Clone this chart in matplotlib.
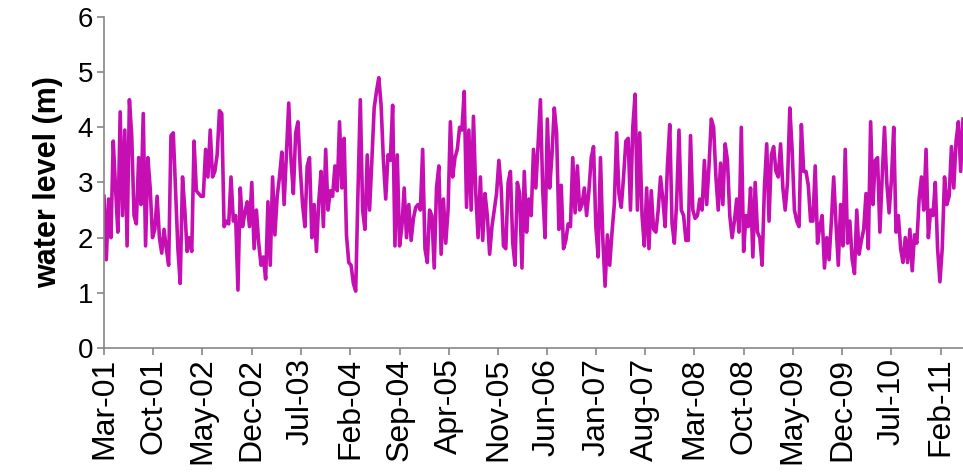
import pandas as pd
import matplotlib
matplotlib.use("Agg")
import matplotlib.pyplot as plt
import matplotlib.dates as mdates

plt.rcParams["font.family"] = ["Liberation Sans", "DejaVu Sans"]

LINE_COL = "#C60FB2"
AXIS_COL = "#868686"
YTICK_FS = 20
XTICK_FS = 23
LABEL_FS = 22

# water level (m), one reading every STEP_DAYS from START
START = "2001-03-01"
STEP_DAYS = 10
water_level = [
    2.75, 1.6, 2.7, 2.0, 3.75, 2.9, 2.1, 4.28, 2.4, 3.95, 1.85, 4.5, 3.85, 2.4, 2.25, 3.45,
    2.6, 4.25, 1.85, 3.45, 2.9, 2.0, 2.15, 2.75, 2.0, 1.72, 2.15, 1.8, 1.5, 3.85, 3.9,
    2.85, 1.8, 1.17, 3.1, 2.5, 1.75, 2.0, 1.75, 3.75, 2.85, 2.8, 2.75, 2.75, 3.6, 3.1,
    3.95, 3.1, 3.2, 3.5, 4.3, 4.25, 2.2, 2.3, 2.25, 3.1, 2.3, 2.4, 1.05, 2.9, 2.2, 2.45,
    2.65, 2.2, 3.0, 1.8, 2.5, 1.9, 1.5, 1.65, 1.25, 2.65, 1.5, 3.1, 2.05, 2.75, 3.1, 3.55,
    2.6, 3.5, 4.44, 3.4, 2.8, 3.9, 4.1, 3.25, 2.6, 2.2, 3.3, 3.45, 2.0, 2.6, 1.75,
    2.65, 3.2, 2.2, 3.6, 2.5, 2.85, 2.75, 3.3, 2.85, 4.1, 2.9, 3.8, 2.05, 1.55, 1.5, 1.17,
    1.03, 2.85, 4.5, 2.5, 2.15, 3.5, 2.5, 3.4, 4.35, 4.65, 4.9, 4.4, 3.4, 2.7, 3.5,
    3.4, 4.4, 1.85, 3.5, 1.85, 2.2, 2.9, 2.0, 2.6, 1.95, 2.35, 2.55, 2.6, 2.5, 3.6, 1.8,
    1.55, 2.5, 2.4, 1.45, 2.9, 3.3, 1.7, 2.7, 1.9, 2.5, 4.1, 3.1, 3.45, 3.6, 4.0,
    3.95, 4.65, 2.55, 3.95, 2.5, 4.2, 2.8, 2.0, 3.1, 1.95, 2.8, 2.4, 1.7, 2.2, 2.5, 2.8,
    3.4, 2.9, 1.85, 1.8, 3.0, 3.2, 1.9, 1.5, 3.0, 2.8, 1.45, 3.2, 2.1, 2.7, 2.4,
    3.6, 2.9, 3.7, 4.5, 2.85, 2.0, 4.15, 2.9, 3.5, 4.35, 3.9, 2.15, 2.95, 1.8, 1.95, 2.25,
    2.2, 3.45, 2.45, 3.3, 2.5, 2.6, 2.9, 2.4, 2.85, 3.45, 3.65, 2.2, 1.65, 3.45, 2.0,
    1.12, 2.05, 1.5, 2.1, 2.6, 3.9, 2.8, 2.55, 3.1, 3.75, 3.8, 2.5, 4.0, 4.6, 2.5, 3.9,
    2.4, 1.85, 2.9, 1.8, 2.85, 2.15, 2.1, 2.5, 3.1, 2.7, 2.2, 3.3, 4.05, 2.25, 1.9,
    2.65, 3.95, 2.5, 2.4, 1.95, 1.95, 3.85, 2.5, 2.35, 2.4, 2.7, 2.5, 3.4, 2.6, 3.3, 4.15,
    4.0, 3.1, 2.5, 3.35, 2.6, 3.7, 3.4, 2.4, 2.0, 2.3, 2.7, 2.1, 4.0, 1.75, 2.4,
    2.2, 2.9, 1.65, 3.0, 2.1, 2.0, 1.5, 2.9, 3.7, 2.3, 3.5, 3.65, 3.2, 3.1, 3.7, 2.9,
    2.5, 3.0, 4.35, 3.6, 2.5, 2.3, 2.2, 4.05, 3.2, 3.2, 2.95, 2.3, 2.3, 3.3, 1.9, 2.2,
    2.4, 1.45, 2.0, 1.6, 2.3, 3.1, 2.25, 1.5, 2.6, 1.85, 3.6, 1.9, 2.3, 1.6, 1.35, 2.5,
    1.7, 1.95, 2.15, 2.8, 1.8, 4.1, 2.6, 3.4, 3.45, 2.1, 3.1, 4.0, 3.0, 2.45, 3.05,
    4.0, 2.1, 2.4, 1.8, 1.55, 2.0, 1.55, 2.15, 1.4, 2.05, 1.9, 2.7, 3.1, 2.5, 3.6, 2.0,
    2.5, 2.4, 3.0, 1.8, 1.2, 1.8, 3.1, 2.6, 2.75, 3.65, 2.9, 3.75, 4.1, 3.2, 4.15,
]

# date ticks every 7 months
N_TICKS = 18
TICK_MONTHS = 7

dates = pd.date_range(START, periods=len(water_level), freq=f"{STEP_DAYS}D")
ticks = pd.date_range(START, periods=N_TICKS, freq=f"{TICK_MONTHS}MS")

fig = plt.figure(figsize=(9.63, 4.73), dpi=100)
ax = fig.add_axes([0.108, 0.2643, 0.892, 0.6998])

ax.plot(dates, water_level, color=LINE_COL, lw=2.6)

ax.set_xlim(dates[0], dates[-1])
ax.set_ylim(0, 6)
ax.set_yticks(range(7))
ax.set_xticks(ticks)
ax.xaxis.set_major_formatter(mdates.DateFormatter("%b-%y"))
for lab in ax.get_xticklabels():
    lab.set_rotation(90)

ax.set_ylabel("water level (m)", fontsize=LABEL_FS, fontweight="bold", labelpad=10)

for side in ("top", "right"):
    ax.spines[side].set_visible(False)
for side in ("left", "bottom"):
    ax.spines[side].set_color(AXIS_COL)
    ax.spines[side].set_linewidth(1.2)
ax.tick_params(direction="out", length=5, width=1.2, color=AXIS_COL,
               labelcolor="black", pad=3)
ax.tick_params(axis="y", labelsize=YTICK_FS)
ax.tick_params(axis="x", labelsize=XTICK_FS, pad=2)

fig.savefig("out.png", dpi=100)
